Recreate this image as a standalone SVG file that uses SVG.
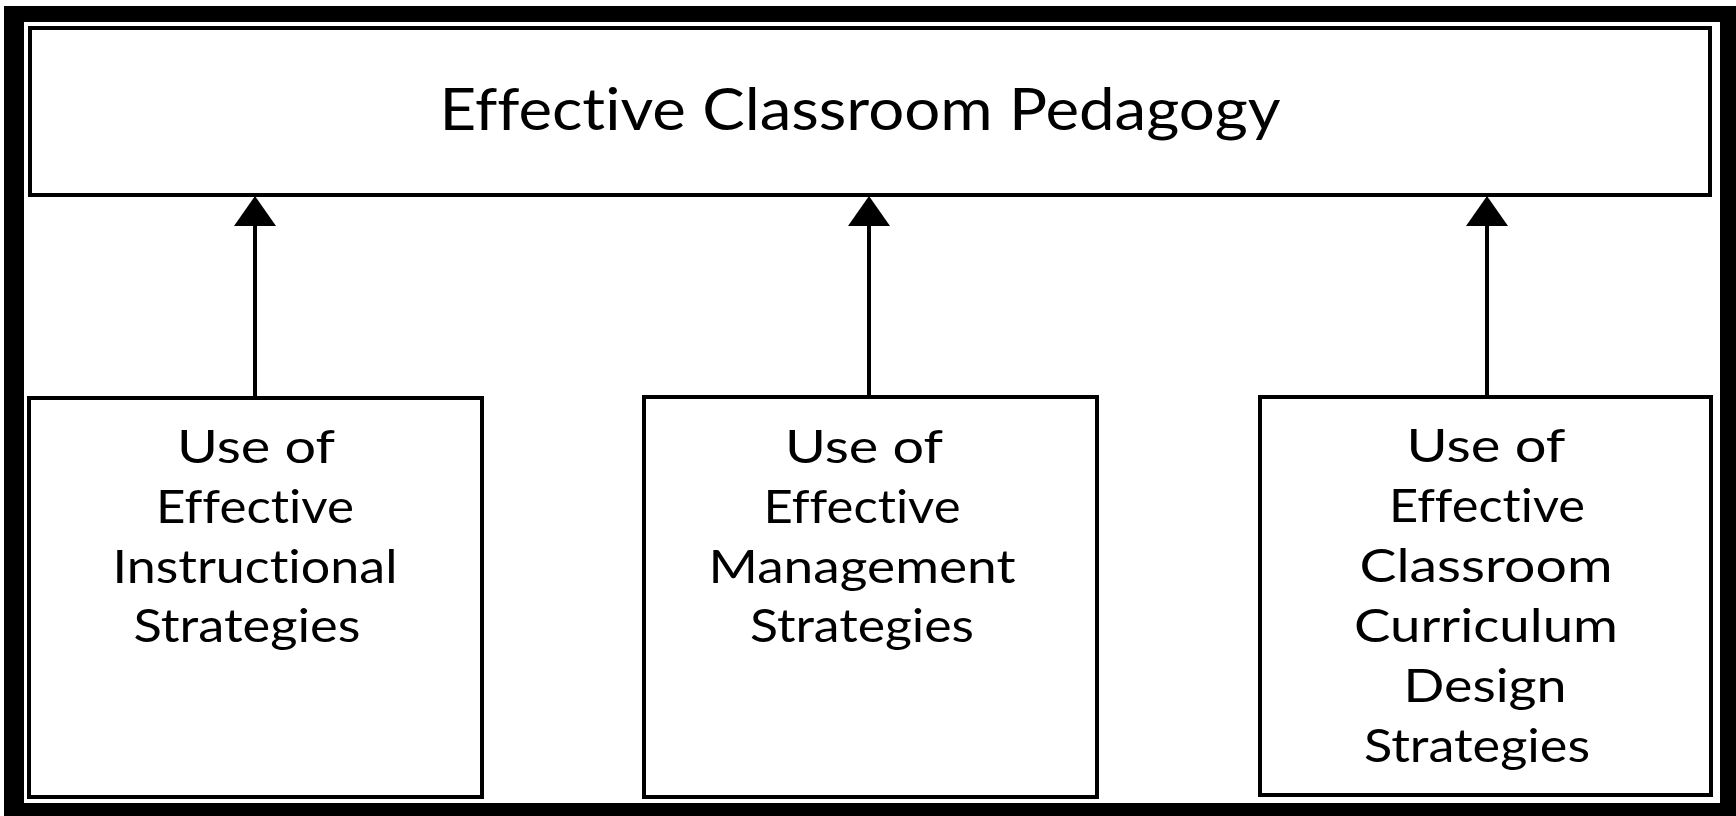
<svg xmlns="http://www.w3.org/2000/svg" width="1736" height="816" viewBox="0 0 1736 816">
<style>
.box{fill:#fff;stroke:#000;stroke-width:4}
.lbl{font-family:Lato,"Liberation Sans",sans-serif;font-size:46px;fill:#000;text-anchor:middle;font-variant-ligatures:none}
.ttl{font-family:Lato,"Liberation Sans",sans-serif;font-size:58px;fill:#000;text-anchor:middle;font-variant-ligatures:none}
.con{stroke:#000;stroke-width:4;fill:none}
</style>
<defs>
<marker id="ah" markerUnits="userSpaceOnUse" markerWidth="30" markerHeight="42" viewBox="0 0 30 42" refX="0" refY="21" orient="auto">
<path d="M0,0 L30,21 L0,42 Z" fill="#000"/>
</marker>
</defs>
<rect x="0" y="0" width="1736" height="816" fill="#fff"/>
<rect x="4" y="6" width="1732" height="810" fill="#000"/>
<rect x="24" y="22" width="1696" height="781" fill="#fff"/>
<g id="top">
<rect class="box" x="30" y="28" width="1680" height="167"/>
<text class="ttl" x="860" y="130" textLength="841" lengthAdjust="spacingAndGlyphs">Effective Classroom Pedagogy</text>
</g>
<g id="instructional">
<rect class="box" x="29" y="398" width="453" height="399"/>
<text class="lbl" x="256" y="463" textLength="158" lengthAdjust="spacingAndGlyphs">Use of</text>
<text class="lbl" x="255" y="523" textLength="198" lengthAdjust="spacingAndGlyphs">Effective</text>
<text class="lbl" x="255" y="583" textLength="285" lengthAdjust="spacingAndGlyphs">Instructional</text>
<text class="lbl" x="247" y="642" textLength="227" lengthAdjust="spacingAndGlyphs">Strategies</text>
</g>
<g id="management">
<rect class="box" x="644" y="397" width="453" height="400"/>
<text class="lbl" x="864" y="463" textLength="158" lengthAdjust="spacingAndGlyphs">Use of</text>
<text class="lbl" x="862" y="523" textLength="197" lengthAdjust="spacingAndGlyphs">Effective</text>
<text class="lbl" x="862" y="583" textLength="307" lengthAdjust="spacingAndGlyphs">Management</text>
<text class="lbl" x="862" y="642" textLength="224" lengthAdjust="spacingAndGlyphs">Strategies</text>
</g>
<g id="curriculum">
<rect class="box" x="1260" y="397" width="451" height="398"/>
<text class="lbl" x="1486" y="462" textLength="159" lengthAdjust="spacingAndGlyphs">Use of</text>
<text class="lbl" x="1487" y="522" textLength="196" lengthAdjust="spacingAndGlyphs">Effective</text>
<text class="lbl" x="1486" y="582" textLength="253" lengthAdjust="spacingAndGlyphs">Classroom</text>
<text class="lbl" x="1486" y="642" textLength="264" lengthAdjust="spacingAndGlyphs">Curriculum</text>
<text class="lbl" x="1485" y="702" textLength="163" lengthAdjust="spacingAndGlyphs">Design</text>
<text class="lbl" x="1477" y="762" textLength="226" lengthAdjust="spacingAndGlyphs">Strategies</text>
</g>
<g id="connectors">
<line class="con" x1="255" y1="396" x2="255" y2="226" marker-end="url(#ah)"/>
<line class="con" x1="869" y1="395" x2="869" y2="226" marker-end="url(#ah)"/>
<line class="con" x1="1487" y1="395" x2="1487" y2="226" marker-end="url(#ah)"/>
</g>
</svg>
